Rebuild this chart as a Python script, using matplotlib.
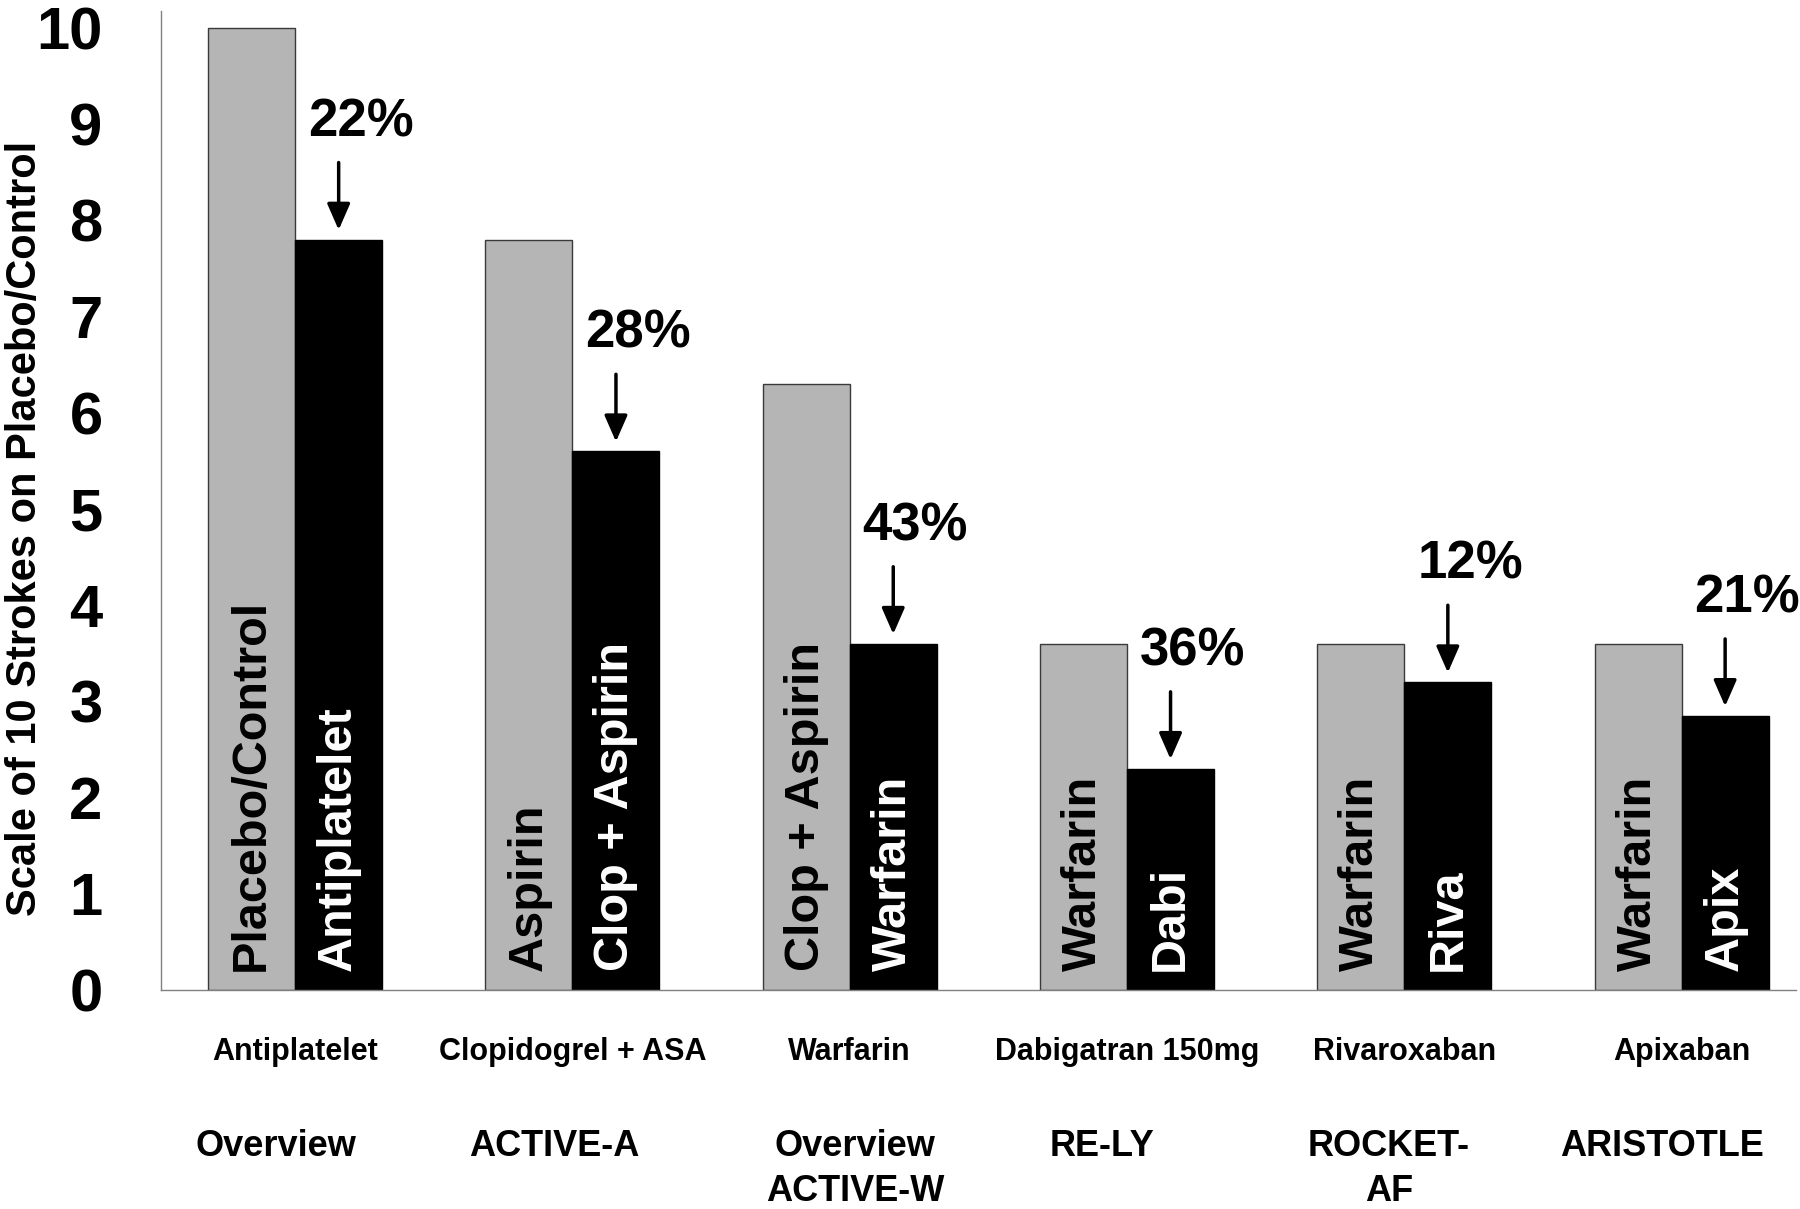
import numpy as np
import matplotlib
matplotlib.use("Agg")
import matplotlib.pyplot as plt

plt.rcParams['font.family'] = ['Liberation Sans', 'DejaVu Sans']
plt.rcParams['font.weight'] = 'bold'

# data
drugs = ["Antiplatelet", "Clopidogrel + ASA", "Warfarin", "Dabigatran 150mg", "Rivaroxaban", "Apixaban"]
trials = ["Overview", "ACTIVE-A", "Overview\nACTIVE-W", "RE-LY", "ROCKET-\nAF", "ARISTOTLE"]
control_names = ["Placebo/Control", "Aspirin", "Clop + Aspirin", "Warfarin", "Warfarin", "Warfarin"]
treat_names = ["Antiplatelet", "Clop + Aspirin", "Warfarin", "Dabi", "Riva", "Apix"]
control_vals = [10.0, 7.8, 6.3, 3.6, 3.6, 3.6]
treat_vals = [7.8, 5.6, 3.6, 2.3, 3.2, 2.85]
reductions = ["22%", "28%", "43%", "36%", "12%", "21%"]

# small horizontal nudges of the trial names (layout only)
trial_shift = [-0.07, -0.065, 0.02, -0.09, -0.055, -0.07]

fig = plt.figure(figsize=(18, 12.09), dpi=100)
ax = fig.add_axes([0.0894, 0.181, 0.9086, 0.8095])

x = np.arange(len(drugs))
w = 0.314
ax.bar(x - w / 2, control_vals, w, color='#b5b5b5', edgecolor='#3a3a3a', linewidth=1.0)
ax.bar(x + w / 2, treat_vals, w, color='black', edgecolor='black', linewidth=1.0)

ax.set_xlim(-0.484, 5.414)
ax.set_ylim(0, 10.17)
ax.set_yticks(range(11))
ax.set_xticks([])
ax.tick_params(axis='y', length=0, pad=42, labelsize=43)
for lab in ax.get_yticklabels():
    lab.set_fontweight('bold')
for s in ['top', 'right']:
    ax.spines[s].set_visible(False)
for s in ['left', 'bottom']:
    ax.spines[s].set_color('#808080')
    ax.spines[s].set_linewidth(1.0)

fig.text(25 / 1800, 0.563, "Scale of 10 Strokes on Placebo/Control", rotation=90,
         ha='center', va='center', fontsize=30, fontweight='bold')

for i in range(len(drugs)):
    ax.text(x[i] - w / 2, 0.2, control_names[i], rotation=90, ha='center', va='bottom',
            fontsize=35, color='black')
    ax.text(x[i] + w / 2, 0.2, treat_names[i], rotation=90, ha='center', va='bottom',
            fontsize=35, color='white')

    top = treat_vals[i]
    ax.annotate('', xy=(x[i] + w / 2, top + 0.1), xytext=(x[i] + w / 2, top + 0.8),
                arrowprops=dict(arrowstyle='-|>,head_length=0.8,head_width=0.35',
                                lw=2.5, color='black', mutation_scale=20,
                                shrinkA=0, shrinkB=0))
    ax.text(x[i] + w / 2 + 0.08, top + 1.22, reductions[i], ha='center', va='center',
            fontsize=38)

    ax.text(x[i], -0.644, drugs[i], ha='center', va='center', fontsize=22)
    for j, line in enumerate(trials[i].split("\n")):
        ax.text(x[i] + trial_shift[i], -1.623 - j * 0.465, line, ha='center', va='center',
                fontsize=26)

fig.savefig("out.png", dpi=100)
